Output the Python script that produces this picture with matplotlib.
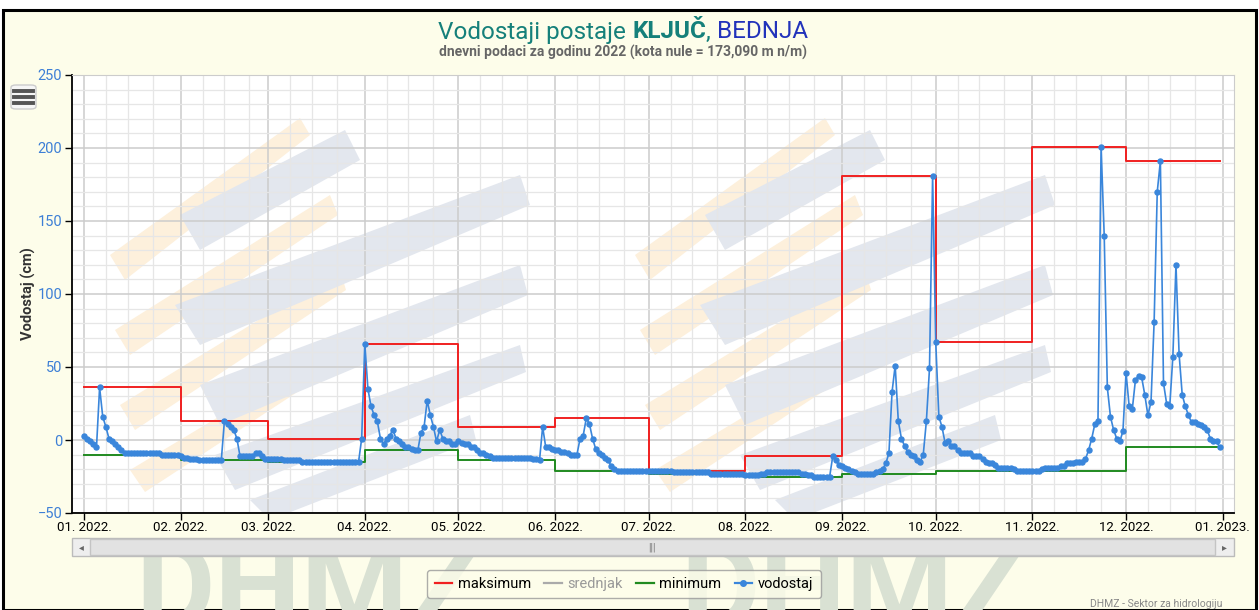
import numpy as np
import pandas as pd
import matplotlib
matplotlib.use("Agg")
import matplotlib.pyplot as plt
import matplotlib.dates as mdates
from matplotlib.patches import Polygon, FancyBboxPatch, Rectangle
from matplotlib.lines import Line2D

W, H = 1259, 610

# daily water level (cm), 2022
jan = [3, 1, -1, -3, -5, 36, 16, 9, 1, -1, -3, -5, -7, -9, -9, -9, -9, -9, -9, -9,
       -9, -9, -9, -9, -9, -10, -10, -10, -10, -10, -10]
feb = [-11, -12, -12, -13, -13, -13, -14, -14, -14, -14, -14, -14, -14, -14, 13, 11,
       9, 7, 1, -11, -11, -11, -11, -11, -9, -9, -11, -13]
mar = [-13, -13, -13, -13, -13, -14, -14, -14, -14, -14, -14, -15, -15, -15, -15, -15,
       -15, -15, -15, -15, -15, -15, -15, -15, -15, -15, -15, -15, -15, -15, 1]
apr = [66, 35, 23, 17, 13, 1, -3, 1, 3, 7, 1, -1, -3, -5, -5, -6, -7, -7, 5, 9,
       27, 17, 9, -1, 7, 1, -1, -1, -3, -3]
may = [-1, -2, -3, -3, -5, -5, -7, -9, -9, -10, -11, -12, -12, -12, -12, -12, -12,
       -12, -12, -12, -12, -12, -12, -12, -13, -13, -14, 9, -5, -5, -6]
jun = [-7, -7, -8, -8, -9, -10, -10, -10, 1, 3, 15, 11, 1, -6, -9, -10, -12, -14,
       -18, -20, -21, -21, -21, -21, -21, -21, -21, -21, -21, -21]
jul = [-21] * 8 + [-22] * 12 + [-23] * 11
aug = [-24, -24, -24, -24, -24, -23, -23, -22, -22, -22, -22, -22, -22, -22, -22,
       -22, -22, -22, -23, -23, -24, -24, -25, -25, -25, -25, -25, -25, -11, -14, -17]
sep = [-18, -19, -20, -21, -22, -23, -23, -23, -23, -23, -23, -22, -21, -20, -16,
       -9, 33, 51, 13, 1, -4, -8, -10, -11, -14, -15, -10, 13, 49, 181]
okt = [67, 16, 9, -2, -1, -4, -4, -7, -9, -9, -9, -9, -11, -11, -11, -13, -15, -16,
       -16, -17, -19, -19, -19, -19, -19, -20, -21, -21, -21, -21, -21]
nov = [-21, -21, -21, -20, -19, -19, -19, -19, -19, -18, -18, -16, -16, -16, -15,
       -15, -15, -13, -7, 1, 11, 13, 201, 140, 36, 16, 7, 1, -1, 6]
dec = [46, 23, 21, 41, 44, 43, 31, 17, 26, 81, 170, 191, 39, 25, 23, 57, 120, 59,
       31, 23, 17, 12, 12, 11, 10, 9, 7, 1, -1, -1, -5]

vodostaj = jan + feb + mar + apr + may + jun + jul + aug + sep + okt + nov + dec
days = pd.date_range("2022-01-01", "2022-12-31", freq="D")

month_max = [36, 13, 1, 66, 9, 15, -21, -11, 181, 67, 201, 191]
month_min = [-10, -14, -15, -7, -14, -21, -23, -25, -23, -21, -21, -5]
month_start = list(pd.date_range("2022-01-01", periods=12, freq="MS"))
edges = month_start + [pd.Timestamp("2022-12-31")]

plt.rcParams["font.family"] = ["Roboto", "DejaVu Sans"]


def fx(x):
    return x / W


def fy(y):
    return 1 - y / H


fig = plt.figure(figsize=(W / 100, H / 100), dpi=100)
fig.patch.set_facecolor("white")
fig.patches.append(Rectangle((fx(3), 0), fx(1256) - fx(3), fy(10), transform=fig.transFigure,
                             facecolor="#fdfdea", edgecolor="black", lw=2.2, zorder=0))

# big watermark text
for x0 in [135, 680]:
    fig.text(fx(x0), fy(628), "DHMZ", fontsize=88, fontweight="bold", color="#d9e1d3",
             ha="left", va="baseline", zorder=0.5)

ax = fig.add_axes([fx(72), fy(513), fx(1234) - fx(72), fy(75) - fy(513)], zorder=1)
ax.set_facecolor("white")

# faint logo stripes behind the plot
orange = [[(110, 255), (300, 118), (310, 135), (125, 280)],
          [(115, 330), (330, 195), (338, 215), (130, 355)],
          [(120, 405), (340, 270), (346, 290), (135, 430)],
          [(130, 470), (330, 350), (334, 368), (145, 492)]]
blue = [[(180, 215), (345, 130), (360, 160), (200, 250)],
        [(175, 305), (520, 175), (530, 205), (200, 345)],
        [(200, 385), (520, 265), (528, 295), (220, 425)],
        [(215, 455), (520, 345), (526, 372), (235, 490)],
        [(250, 500), (470, 415), (476, 440), (270, 520)]]
for shift in [0, 525]:
    for poly in orange:
        ax.add_patch(Polygon([(fx(x + shift), fy(y)) for x, y in poly], closed=True,
                             transform=fig.transFigure, facecolor="#fdf0dc", edgecolor="none",
                             zorder=0.1))
    for poly in blue:
        ax.add_patch(Polygon([(fx(x + shift), fy(y)) for x, y in poly], closed=True,
                             transform=fig.transFigure, facecolor="#e3e7ee", edgecolor="none",
                             zorder=0.2))

ax.step(edges, month_max + [month_max[-1]], where="post", color="#f02020", lw=1.4, zorder=3)
ax.step(edges, month_min + [month_min[-1]], where="post", color="#208a20", lw=1.4, zorder=3)
ax.plot(days, vodostaj, color="#3a86db", lw=1.2, marker="o", ms=3.6, zorder=4)

ax.set_ylim(-50, 250)
x0 = pd.Timestamp("2022-01-01")
ax.set_xlim(x0 - pd.Timedelta(days=3.85), x0 + pd.Timedelta(days=368.6))
ax.set_yticks(np.arange(-50, 251, 50))
ax.set_yticks(np.arange(-50, 251, 10), minor=True)
ax.xaxis.set_major_locator(mdates.MonthLocator())
ax.xaxis.set_major_formatter(mdates.DateFormatter("%m. %Y."))
ax.xaxis.set_minor_locator(mdates.DayLocator(bymonthday=[8, 15, 23]))
ax.set_axisbelow(True)
ax.grid(which="major", color="#cccccc", lw=1.1, zorder=0.5)
ax.grid(which="minor", color="#e6e6e6", lw=0.9, zorder=0.4)
ax.tick_params(axis="y", which="major", labelsize=10.5, labelcolor="#3d7fd6", length=5,
               width=1, pad=2)
ax.tick_params(axis="x", which="major", labelsize=9.5, length=5, width=1, pad=1)
ax.tick_params(which="minor", length=0)
for s in ["top", "right"]:
    ax.spines[s].set_color("#cccccc")
ax.spines["left"].set_linewidth(1.3)
ax.spines["bottom"].set_linewidth(1.3)

fig.text(fx(28), fy(294), "Vodostaj (cm)", rotation=90, fontsize=10.5, fontweight="bold",
         color="#333333", ha="center", va="center")

# title in coloured pieces
teal, navy = "#15807a", "#2233bb"
parts = [("Vodostaji postaje ", teal, "normal"), ("KLJUČ", teal, "bold"),
         (", ", teal, "normal"), ("BEDNJA", navy, "normal")]
r = fig.canvas.get_renderer()
objs = []
for txt, col, wt in parts:
    objs.append(fig.text(0, fy(32), txt, fontsize=17.5, color=col, fontweight=wt,
                         va="center", ha="left"))
widths = [o.get_window_extent(r).width for o in objs]
xs = 623 - sum(widths) / 2
for o, w in zip(objs, widths):
    o.set_x(fx(xs))
    xs += w
fig.text(fx(623), fy(52), "dnevni podaci za godinu 2022 (kota nule = 173,090 m n/m)",
         fontsize=10, fontweight="bold", color="#666666", ha="center", va="center")

# menu button
fig.patches.append(FancyBboxPatch((fx(11), fy(109)), fx(25), fy(85) - fy(109),
                                  boxstyle="round,pad=0,rounding_size=0.004",
                                  transform=fig.transFigure, facecolor="#f6f6f6",
                                  edgecolor="#cccccc", lw=1, zorder=2))
for yy in [91, 97, 103]:
    fig.lines.append(Line2D([fx(14), fx(33)], [fy(yy), fy(yy)], transform=fig.transFigure,
                            color="#555555", lw=2.8, zorder=3))

# navigator scrollbar
fig.patches.append(Rectangle((fx(72), fy(556)), fx(1234) - fx(72), fy(538) - fy(556),
                             transform=fig.transFigure, facecolor="#eeeeee",
                             edgecolor="#bbbbbb", lw=1, zorder=2))
fig.patches.append(Rectangle((fx(90), fy(555)), fx(1215) - fx(90), fy(539) - fy(555),
                             transform=fig.transFigure, facecolor="#e2e2e2",
                             edgecolor="#c4c4c4", lw=1, zorder=2))
fig.text(fx(81), fy(547), "◂", fontsize=7, color="#666666", ha="center", va="center", zorder=3)
fig.text(fx(1224), fy(547), "▸", fontsize=7, color="#666666", ha="center", va="center", zorder=3)
fig.text(fx(652), fy(547), "|||", fontsize=7, color="#777777", ha="center", va="center", zorder=3)

# legend
handles = [Line2D([], [], color="#f02020", lw=1.6),
           Line2D([], [], color="#aaaaaa", lw=1.6),
           Line2D([], [], color="#208a20", lw=1.6),
           Line2D([], [], color="#3a86db", lw=1.6, marker="o", ms=4)]
leg = fig.legend(handles, ["maksimum", "srednjak", "minimum", "vodostaj"], ncol=4,
                 loc="center", bbox_to_anchor=(fx(624), fy(584)), fontsize=10.5,
                 frameon=True, fancybox=True, facecolor="#fdfdea", edgecolor="#999999",
                 handlelength=1.2, handletextpad=0.4, columnspacing=0.9, borderpad=0.5)
leg.get_texts()[1].set_color("#999999")
leg.set_zorder(4)

fig.text(fx(1090), fy(604), "DHMZ - Sektor za hidrologiju", fontsize=7.5, color="#888888",
         ha="left", va="center")

fig.savefig("out.png", dpi=100, facecolor=fig.get_facecolor())
